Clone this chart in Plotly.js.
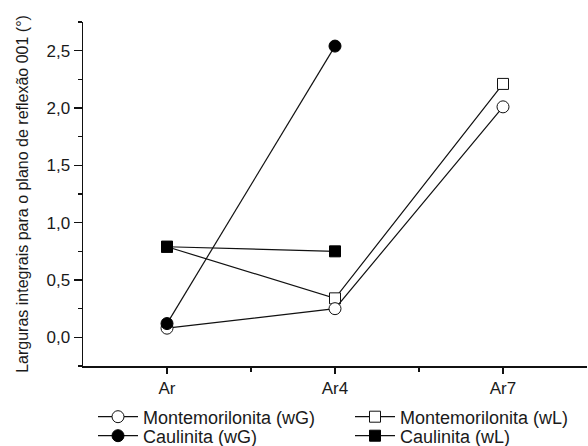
<!DOCTYPE html>
<html>
<head>
<meta charset="utf-8">
<script src="https://cdn.plot.ly/plotly-3.0.1.min.js"></script>
<style>html,body{margin:0;padding:0;background:#fff;}#chart{width:588px;height:446px;}</style>
</head>
<body>
<div id="chart"></div>
<script>
const categories = ["Ar", "Ar4", "Ar7"];
const montWG = [0.08, 0.25, 2.01];
const montWL = [0.79, 0.34, 2.21];
const caulWG = [0.12, 2.54];
const caulWL = [0.79, 0.75];
const yTickVals = [0, 0.5, 1.0, 1.5, 2.0, 2.5];

const xIdx = arr => arr.map((_, i) => i);
const lineStyle = {color: "#111", width: 1.2};

const montWGTrace = {x: xIdx(montWG), y: montWG, name: "Montemorilonita (wG)", mode: "lines+markers", legend: "legend",
   line: lineStyle, marker: {symbol: "circle", size: 12, color: "#fff", line: {color: "#111", width: 1}}};
const caulWGTrace = {x: xIdx(caulWG), y: caulWG, name: "Caulinita (wG)", mode: "lines+markers", legend: "legend3",
   line: lineStyle, marker: {symbol: "circle", size: 12, color: "#000", line: {color: "#000", width: 1}}};
const montWLTrace = {x: xIdx(montWL), y: montWL, name: "Montemorilonita (wL)", mode: "lines+markers", legend: "legend2",
   line: lineStyle, marker: {symbol: "square", size: 11, color: "#fff", line: {color: "#111", width: 1}}};
const caulWLTrace = {x: xIdx(caulWL), y: caulWL, name: "Caulinita (wL)", mode: "lines+markers", legend: "legend4",
   line: lineStyle, marker: {symbol: "square", size: 11, color: "#000", line: {color: "#000", width: 1}}};
// draw order: open markers first, filled on top
const ordered = [montWLTrace, montWGTrace, caulWGTrace, caulWLTrace];

const font = {family: "Liberation Sans, Arial, sans-serif", color: "#1a1a1a"};
const legFont = {size: 18};
// legend positions in paper coordinates (plot area: x 83..587, y 22..366 px)
const row1 = -(417 - 366) / 344, row2 = -(436 - 366) / 344;
const col1 = (93 - 83) / 504, col2 = (350 - 83) / 504;
function leg(x, y) {
  return {x: x, y: y, xanchor: "left", yanchor: "middle",
          orientation: "v", font: legFont, bgcolor: "rgba(0,0,0,0)", itemwidth: 40};
}

const layout = {
  width: 588, height: 446,
  margin: {l: 83, r: 1, t: 22, b: 80, autoexpand: false},
  paper_bgcolor: "#fff", plot_bgcolor: "#fff",
  separators: ",.",
  font: Object.assign({size: 17}, font),
  showlegend: true,
  xaxis: {
    range: [-0.5, 2.5], tickmode: "array", tickvals: xIdx(categories), ticktext: categories,
    showline: true, linecolor: "#111", linewidth: 1.5, mirror: false, showgrid: false, zeroline: false,
    ticks: "outside", ticklen: 6, tickwidth: 1.2, tickcolor: "#111", ticklabelstandoff: 0,
    minor: {tickvals: [0.5, 1.5], ticks: "outside", ticklen: 4, tickwidth: 1.2, tickcolor: "#111", showgrid: false},
    tickfont: {size: 17}
  },
  yaxis: {
    range: [-0.25, 2.75], tickmode: "array", tickvals: yTickVals, tickformat: ".1f",
    showline: true, linecolor: "#111", linewidth: 1.5, mirror: false, showgrid: false, zeroline: false,
    ticks: "outside", ticklen: 8, tickwidth: 1.2, tickcolor: "#111",
    minor: {dtick: 0.25, tick0: 0, ticks: "outside", ticklen: 4, tickwidth: 1.2, tickcolor: "#111", showgrid: false},
    tickfont: {size: 17},
    title: {text: "Larguras integrais para o plano de reflexão 001 (°)", font: {size: 16}, standoff: 14}
  },
  legend: leg(col1, row1),
  legend2: leg(col2, row1),
  legend3: leg(col1, row2),
  legend4: leg(col2, row2)
};

Plotly.newPlot("chart", ordered, layout, {displayModeBar: false, staticPlot: true});
</script>
</body>
</html>
